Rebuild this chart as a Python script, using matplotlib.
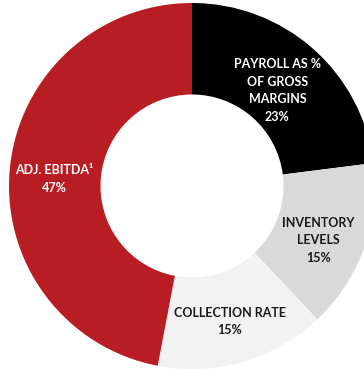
import numpy as np
import matplotlib
matplotlib.use("Agg")
import matplotlib.pyplot as plt

labels = ["PAYROLL AS %\nOF GROSS\nMARGINS", "INVENTORY\nLEVELS", "COLLECTION RATE", "ADJ. EBITDA\u00b9"]
values = [23, 15, 15, 47]
colors = ["#000000", "#D9D9D9", "#F2F2F2", "#B81D23"]
text_colors = ["white", "#1a1a1a", "#1a1a1a", "white"]
label_r = [0.70, 0.75, 0.77, 0.755]
label_dtheta = [-0.4, -3.4, -0.6, 2.5]

W, H = 364, 369
cx, cy, R = 192, 186, 183  # pixel layout of donut

fig = plt.figure(figsize=(W / 100, H / 100), dpi=100)
ax = fig.add_axes([0, 0, 1, 1])
wedges, _ = ax.pie(values, colors=colors, startangle=90, counterclock=False,
                   radius=1.0, wedgeprops=dict(width=0.5, linewidth=0))
ax.set_aspect("auto")
ax.set_xlim(-cx / R, (W - cx) / R)
ax.set_ylim(-(H - cy) / R, cy / R)
ax.axis("off")

font = ["Lato", "DejaVu Sans"]
for w, lab, v, tc, r, dt in zip(wedges, labels, values, text_colors, label_r, label_dtheta):
    ang = np.deg2rad((w.theta1 + w.theta2) / 2 + dt)
    x, y = r * np.cos(ang), r * np.sin(ang)
    ax.text(x, y, f"{lab}\n{v}%", ha="center", va="center", color=tc,
            fontsize=9, fontweight="bold", family=font, linespacing=1.55)

fig.savefig("out.png", dpi=100, facecolor="white")
